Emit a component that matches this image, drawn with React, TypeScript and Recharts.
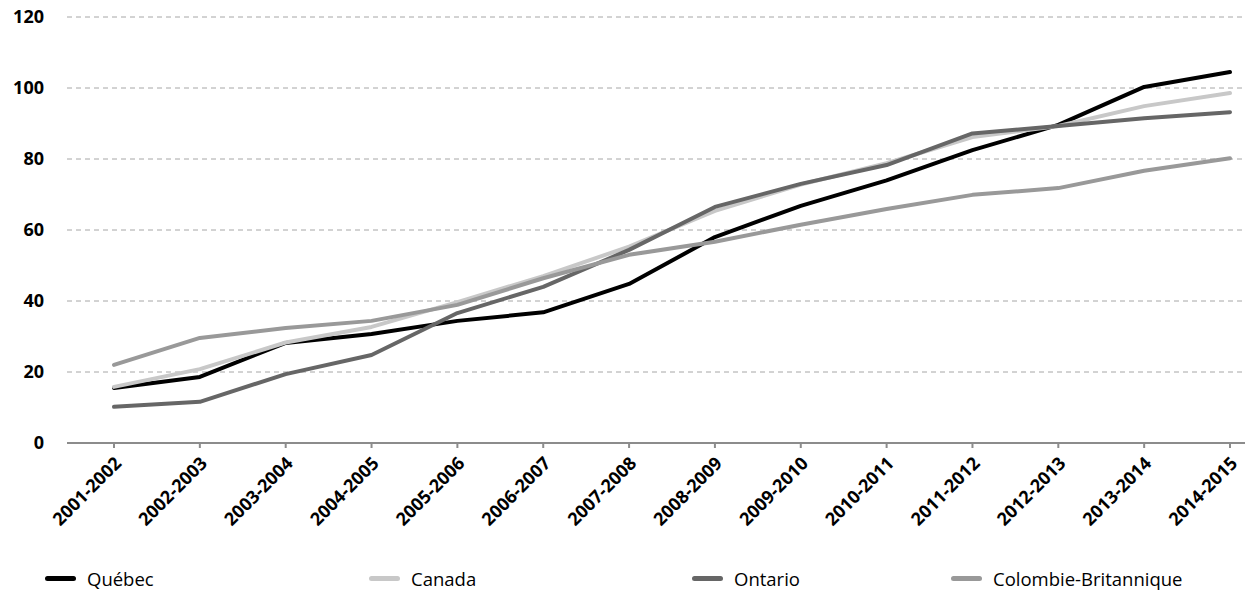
import { CartesianGrid, Line, LineChart, XAxis, YAxis } from 'recharts';

const CATEGORIES = [
  '2001-2002', '2002-2003', '2003-2004', '2004-2005', '2005-2006', '2006-2007', '2007-2008',
  '2008-2009', '2009-2010', '2010-2011', '2011-2012', '2012-2013', '2013-2014', '2014-2015',
];

const QUEBEC = [15.5, 18.6, 28.2, 30.7, 34.4, 36.8, 44.8, 58, 66.8, 74, 82.5, 89.6, 100.3, 104.5];
const CANADA = [15.8, 20.8, 28.3, 32.7, 39.7, 47, 55.3, 65.4, 72.8, 78.8, 86.2, 89.3, 94.9, 98.6];
const ONTARIO = [10.2, 11.6, 19.4, 24.8, 36.6, 44, 54.4, 66.5, 73, 78.3, 87.2, 89.3, 91.5, 93.2];
const COLOMBIE_BRITANNIQUE = [22, 29.6, 32.4, 34.4, 38.9, 46.4, 53, 56.7, 61.5, 65.9, 69.9, 71.8, 76.7, 80.2];

const Y_TICKS = [0, 20, 40, 60, 80, 100, 120];

const SERIES = [
  { key: 'quebec', name: 'Québec', values: QUEBEC, color: '#000000' },
  { key: 'canada', name: 'Canada', values: CANADA, color: '#c8c8c8' },
  { key: 'ontario', name: 'Ontario', values: ONTARIO, color: '#666666' },
  { key: 'cb', name: 'Colombie-Britannique', values: COLOMBIE_BRITANNIQUE, color: '#999999' },
];

// left offset of each legend entry, like the Excel legend
const LEGEND_LEFT = [45, 369, 692, 951];

const FONT = '"Open Sans", "Noto Sans", sans-serif';

const data = CATEGORIES.map((period, i) => {
  const row: Record<string, number | string> = { period };
  SERIES.forEach((s) => {
    row[s.key] = s.values[i];
  });
  return row;
});

const XTick = ({ x, y, payload }: { x?: number; y?: number; payload?: { value: string } }) => (
  <g transform={`translate(${(x ?? 0) + 4},${(y ?? 0) + 10})`}>
    <text
      transform="rotate(-45)"
      textAnchor="end"
      dy="0.35em"
      fontFamily={FONT}
      fontWeight={700}
      fontSize={18}
      fill="#000"
    >
      {payload?.value}
    </text>
  </g>
);

export default function App() {
  return (
    <div style={{ position: 'absolute', left: 0, top: 0, width: 1248, height: 592, background: '#fff' }}>
      <LineChart width={1248} height={560} data={data} margin={{ top: 17, right: 3, bottom: 0, left: 0 }}>
        <CartesianGrid vertical={false} stroke="#a6a6a6" strokeDasharray="5 4" />
        <XAxis
          dataKey="period"
          interval={0}
          height={117}
          padding={{ left: 47, right: 15 }}
          stroke="#8c8c8c"
          strokeWidth={2}
          tickSize={5}
          tickMargin={2}
          tick={<XTick />}
        />
        <YAxis
          domain={[0, 120]}
          ticks={Y_TICKS}
          width={67}
          axisLine={false}
          tickLine={false}
          tickSize={0}
          tickMargin={23}
          tick={{ fontFamily: FONT, fontWeight: 700, fontSize: 18, fill: '#000' }}
        />
        {SERIES.map((s) => (
          <Line
            key={s.key}
            type="linear"
            dataKey={s.key}
            name={s.name}
            stroke={s.color}
            strokeWidth={4}
            strokeLinecap="round"
            strokeLinejoin="round"
            dot={false}
            activeDot={false}
            isAnimationActive={false}
          />
        ))}
      </LineChart>
      {SERIES.map((s, i) => (
        <div
          key={s.key}
          style={{
            position: 'absolute',
            left: LEGEND_LEFT[i],
            top: 566,
            display: 'flex',
            alignItems: 'center',
            fontFamily: FONT,
            fontSize: 18.5,
            color: '#000',
          }}
        >
          <span style={{ width: 31, height: 5, borderRadius: 3, background: s.color, marginRight: 11 }} />
          <span>{s.name}</span>
        </div>
      ))}
    </div>
  );
}
